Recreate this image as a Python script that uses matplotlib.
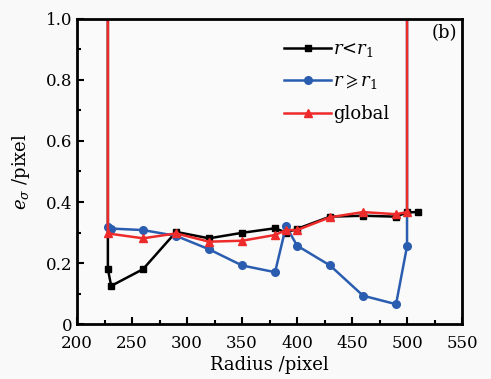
import numpy as np
import matplotlib
matplotlib.use("Agg")
import matplotlib.pyplot as plt
from matplotlib.ticker import MultipleLocator

plt.rcParams['font.family'] = ['DejaVu Serif']
plt.rcParams['mathtext.fontset'] = 'dejavuserif'

# r < r1
x_in = [228, 228, 231, 260, 290, 320, 350, 380, 390, 400, 430, 460, 490, 500, 510]
y_in = [5.0, 0.18, 0.125, 0.18, 0.302, 0.281, 0.299, 0.314, 0.30, 0.312, 0.352, 0.355, 0.352, 0.366, 0.367]

# r >= r1
x_out = [228, 231, 260, 290, 320, 350, 380, 390, 400, 430, 460, 490, 500, 500]
y_out = [0.318, 0.313, 0.308, 0.289, 0.245, 0.192, 0.17, 0.321, 0.257, 0.192, 0.093, 0.065, 0.255, 5.0]

# global
x_all = [228, 228, 260, 290, 320, 350, 380, 390, 400, 430, 460, 490, 500, 500]
y_all = [5.0, 0.297, 0.281, 0.297, 0.27, 0.273, 0.292, 0.308, 0.308, 0.35, 0.367, 0.36, 0.367, 5.0]

fig = plt.figure(figsize=(4.91, 3.79), dpi=100, facecolor='#f9f9f9')
ax = fig.add_axes([0.157, 0.145, 0.784, 0.805], facecolor='#fafafa')

ax.plot(x_in, y_in, color='black', lw=1.8, marker='s', ms=5, label='$r$<$r_1$')
ax.plot(x_out, y_out, color='#2a5db0', lw=1.8, marker='o', ms=5.5, label=r'$r\geqslant r_1$')
ax.plot(x_all, y_all, color='#ee2b2b', lw=1.8, marker='^', ms=6, label='global')

ax.set_xlim(200, 550)
ax.set_ylim(0, 1.0)
ax.xaxis.set_major_locator(MultipleLocator(50))
ax.xaxis.set_minor_locator(MultipleLocator(25))
ax.yaxis.set_major_locator(MultipleLocator(0.2))
ax.yaxis.set_minor_locator(MultipleLocator(0.1))
ax.yaxis.set_major_formatter(plt.FuncFormatter(lambda v, p: '0' if v == 0 else ('1.0' if v == 1 else f'{v:.1f}')))
ax.tick_params(which='both', direction='in', labelsize=12, top=False, right=False)
ax.tick_params(which='major', length=5, width=1.5)
ax.tick_params(which='minor', length=3, width=1.5)
ax.tick_params(axis='x', which='major', pad=8)
for s in ax.spines.values():
    s.set_linewidth(2)

ax.set_xlabel('Radius /pixel', fontsize=13, labelpad=3)
ax.set_ylabel(r'$e_\sigma$ /pixel', fontsize=13, labelpad=10)

ax.text(534, 0.955, '(b)', fontsize=13, ha='center', va='center')

ax.legend(loc='upper left', bbox_to_anchor=(0.52, 0.955), frameon=False, fontsize=13,
          handlelength=2.6, handletextpad=0.1, labelspacing=0.75, borderaxespad=0)

fig.savefig('out.png', dpi=100, facecolor=fig.get_facecolor())
